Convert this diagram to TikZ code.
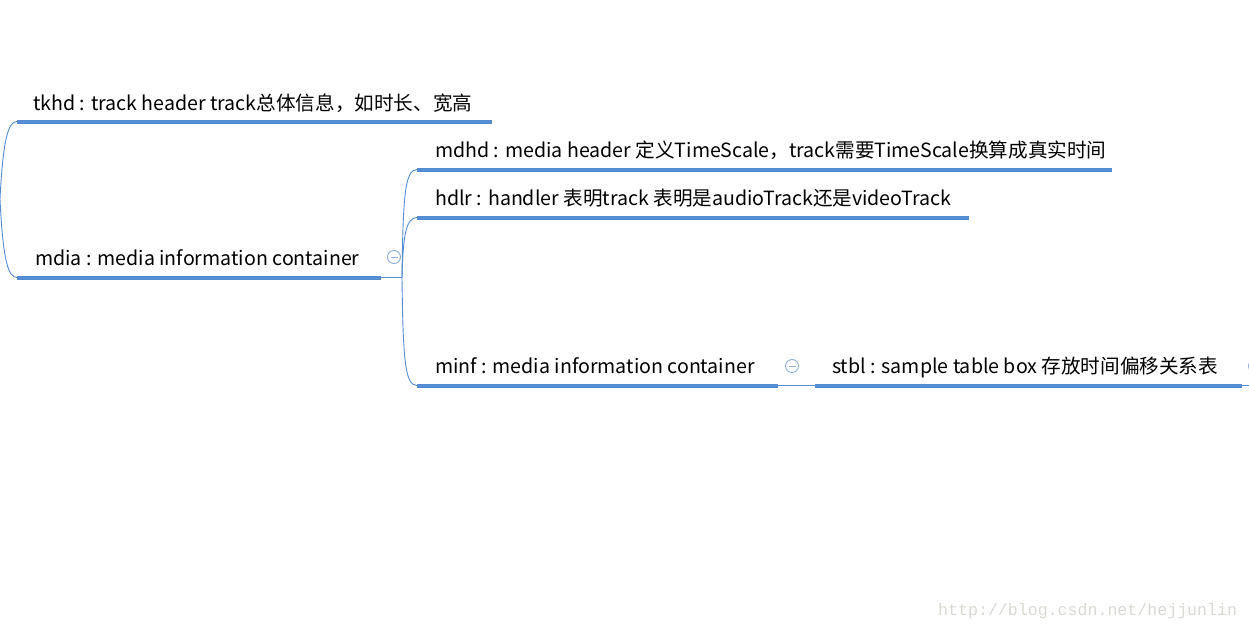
\documentclass[tikz,border=0pt]{standalone}
\usepackage{fontspec}
\setmainfont{Noto Sans CJK SC}
\newfontfamily\wmfont{Liberation Mono}
\definecolor{lineblue}{RGB}{86,140,212}
\definecolor{circblue}{RGB}{140,172,222}
\definecolor{wmgray}{RGB}{218,218,212}
\tikzset{
  lbl/.style={anchor=base west, inner sep=0pt, font=\fontsize{19.6}{22}\selectfont, text=black},
  uline/.style={draw=lineblue, line width=4pt},
  conn/.style={draw=lineblue, line width=0.9pt},
  fold/.style={draw=circblue, line width=0.9pt, circle, minimum size=13pt, inner sep=0pt, fill=white},
  wm/.style={anchor=base west, inner sep=0pt, font=\wmfont\fontsize{16.6}{18}\selectfont, text=wmgray}
}
\begin{document}
\begin{tikzpicture}[x=1pt,y=-1pt]
\useasboundingbox[fill=white] (0,0) rectangle (1249,629);
\begin{scope}
\clip (0,0) rectangle (1249,629);
% root connector point
\coordinate (root) at (0,199);
\coordinate (rootL) at (-3,199);
\draw[conn] (rootL) -- (root);
% tkhd
\node[lbl] (tkhd) at (33,110) {tkhd : track header track总体信息，如时长、宽高};
\coordinate (tkhdL) at (17,121.5);
\coordinate (tkhdR) at (492,121.5);
\draw[uline] (tkhdL) -- (tkhdR);
% mdia
\node[lbl] (mdia) at (35,265) {mdia : media information container};
\coordinate (mdiaL) at (17,277.5);
\coordinate (mdiaR) at (381,277.5);
\draw[uline] (mdiaL) -- (mdiaR);
\node[fold] (mdiafold) at (394,257) {};
\draw[circblue, line width=0.9pt] ([xshift=-3.5pt]mdiafold.center) -- ([xshift=3.5pt]mdiafold.center);
% root curves
\draw[conn] (root) .. controls (3,140) and (8,121.5) .. (tkhdL);
\draw[conn] (root) .. controls (3,260) and (8,277.5) .. (mdiaL);
% mdia hub
\coordinate (mdiaHub) at (402,277.5);
\draw[conn] (mdiaR) -- (mdiaHub);
% mdhd
\node[lbl] (mdhd) at (435,157) {mdhd : media header 定义TimeScale，track需要TimeScale换算成真实时间};
\coordinate (mdhdL) at (417,169.5);
\coordinate (mdhdR) at (1112,169.5);
\draw[uline] (mdhdL) -- (mdhdR);
% hdlr
\node[lbl] (hdlr) at (435,205) {hdlr : handler 表明track 表明是audioTrack还是videoTrack};
\coordinate (hdlrL) at (417,217.5);
\coordinate (hdlrR) at (969,217.5);
\draw[uline] (hdlrL) -- (hdlrR);
% minf
\node[lbl] (minf) at (435,373) {minf : media information container};
\coordinate (minfL) at (417,385.5);
\coordinate (minfR) at (778,385.5);
\draw[uline] (minfL) -- (minfR);
\node[fold] (minffold) at (792,366) {};
\draw[circblue, line width=0.9pt] ([xshift=-3.5pt]minffold.center) -- ([xshift=3.5pt]minffold.center);
% mdia children curves
\draw[conn] (mdiaHub) .. controls (403,195) and (405,169.5) .. (mdhdL);
\draw[conn] (mdiaHub) .. controls (403,240) and (405,217.5) .. (hdlrL);
\draw[conn] (mdiaHub) .. controls (403,360) and (405,385.5) .. (minfL);
% stbl
\node[lbl] (stbl) at (832,373) {stbl : sample table box 存放时间偏移关系表};
\coordinate (stblL) at (815,385.5);
\coordinate (stblR) at (1242,385.5);
\draw[uline] (stblL) -- (stblR);
\draw[conn] (minfR) -- (stblL);
\coordinate (stblOut) at (1252,385.5);
\draw[conn] (stblR) -- (stblOut);
\node[fold] (stblfold) at (1255,366) {};
\end{scope}
% watermark
\node[wm] (wm) at (938,615) {http://blog.csdn.net/hejjunlin};
\end{tikzpicture}
\end{document}
